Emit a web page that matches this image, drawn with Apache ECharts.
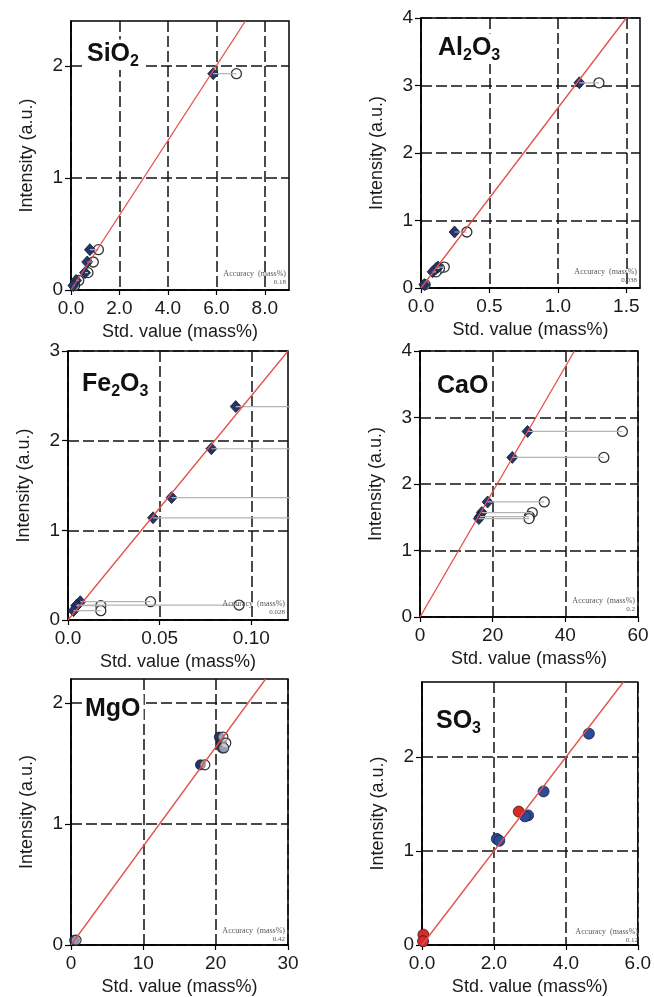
<!DOCTYPE html>
<html><head><meta charset="utf-8">
<script src="https://cdn.jsdelivr.net/npm/echarts@6/dist/echarts.min.js"></script>
<style>html,body{margin:0;padding:0;background:#fff}#c{width:654px;height:997px}</style>
</head><body><div id="c"></div>
<script>
// ---------------- data ----------------
const xAxisName = 'Std. value (mass%)';
const yAxisName = 'Intensity (a.u.)';
const panelTitles = ['{m|SiO}{s|2}', '{m|Al}{s|2}{m|O}{s|3}', '{m|Fe}{s|2}{m|O}{s|3}', '{m|CaO}', '{m|MgO}', '{m|SO}{s|3}'];
const accuracyLabel = 'Accuracy  (mass%)';
const accuracyValues = ['0.18', '0.038', '0.028', '0.2', '0.42', '0.12'];

// SiO2
const sio2Intensity   = [1.93, 0.36, 0.25, 0.155, 0.085, 0.04];
const sio2Corrected   = [5.87, 0.78, 0.67, 0.58, 0.21, 0.10];
const sio2Uncorrected = [6.83, 1.13, 0.92, 0.70, 0.32, 0.15];
const sio2Fit = [[0, 0], [7.2, 2.4]];
const sio2XAxis = [0, 9, 2];   const sio2XTicks = [0, 2, 4, 6, 8]; const sio2XTickLabels = ['0.0', '2.0', '4.0', '6.0', '8.0'];
const sio2YAxis = [0, 2.4, 1]; const sio2YTicks = [0, 1, 2];       const sio2YTickLabels = ['0', '1', '2'];

// Al2O3
const al2o3Intensity   = [3.04, 0.83, 0.31, 0.29, 0.24, 0.05];
const al2o3Corrected   = [1.157, 0.245, 0.125, 0.11, 0.085, 0.025];
const al2o3Uncorrected = [1.30, 0.335, 0.17, 0.135, 0.11, 0.03];
const al2o3Fit = [[0, 0], [1.5, 4]];
const al2o3XAxis = [0, 1.6, 0.5]; const al2o3XTicks = [0, 0.5, 1, 1.5];  const al2o3XTickLabels = ['0.0', '0.5', '1.0', '1.5'];
const al2o3YAxis = [0, 4, 1];     const al2o3YTicks = [0, 1, 2, 3, 4];   const al2o3YTickLabels = ['0', '1', '2', '3', '4'];

// Fe2O3
const fe2o3Intensity   = [2.38, 1.91, 1.365, 1.14, 0.204, 0.167, 0.16, 0.104];
const fe2o3Corrected   = [0.0915, 0.0782, 0.0565, 0.0464, 0.0067, 0.0050, 0.0045, 0.0030];
const fe2o3Uncorrected = [0.175, 0.16, 0.15, 0.15, 0.045, 0.0933, 0.0179, 0.0179];
const fe2o3Fit = [[0, 0], [0.12, 3]];
const fe2o3XAxis = [0, 0.12, 0.05]; const fe2o3XTicks = [0, 0.05, 0.1]; const fe2o3XTickLabels = ['0.0', '0.05', '0.10'];
const fe2o3YAxis = [0, 3, 1];       const fe2o3YTicks = [0, 1, 2, 3];   const fe2o3YTickLabels = ['0', '1', '2', '3'];

// CaO
const caoIntensity   = [2.79, 2.40, 1.73, 1.57, 1.51, 1.48];
const caoCorrected   = [29.6, 25.4, 18.6, 17.0, 16.5, 16.2];
const caoUncorrected = [55.7, 50.6, 34.2, 30.9, 30.1, 30.0];
const caoFit = [[0, 0], [42.5, 4]];
const caoXAxis = [0, 60, 20]; const caoXTicks = [0, 20, 40, 60];   const caoXTickLabels = ['0', '20', '40', '60'];
const caoYAxis = [0, 4, 1];   const caoYTicks = [0, 1, 2, 3, 4];   const caoYTickLabels = ['0', '1', '2', '3', '4'];

// MgO
const mgoIntensity   = [1.72, 1.67, 1.63, 1.49, 0.04];
const mgoCorrected   = [20.5, 20.8, 20.9, 17.9, 0.5];
const mgoUncorrected = [21.0, 21.4, 21.1, 18.5, 0.7];
const mgoFit = [[0, 0], [26.9, 2.2]];
const mgoXAxis = [0, 30, 10]; const mgoXTicks = [0, 10, 20, 30]; const mgoXTickLabels = ['0', '10', '20', '30'];
const mgoYAxis = [0, 2.2, 1]; const mgoYTicks = [0, 1, 2];       const mgoYTickLabels = ['0', '1', '2'];

// SO3
const so3BlueIntensity = [2.25, 1.635, 1.38, 1.37, 1.13, 1.11];
const so3BlueValue     = [4.64, 3.38, 2.95, 2.86, 2.08, 2.15];
const so3RedIntensity  = [1.42, 0.11, 0.04];
const so3RedValue      = [2.69, 0.04, 0.03];
const so3Fit = [[0, 0], [5.6, 2.8]];
const so3XAxis = [0, 6, 2];   const so3XTicks = [0, 2, 4, 6]; const so3XTickLabels = ['0.0', '2.0', '4.0', '6.0'];
const so3YAxis = [0, 2.8, 1]; const so3YTicks = [0, 1, 2];    const so3YTickLabels = ['0', '1', '2'];

// ---------------- layout ----------------
const grids = [
  {left: 71, top: 21, width: 218, height: 269},
  {left: 421, top: 18, width: 219, height: 270},
  {left: 68, top: 351, width: 220, height: 269},
  {left: 420, top: 351, width: 218, height: 266},
  {left: 71, top: 679, width: 217, height: 268},
  {left: 422, top: 682, width: 219, height: 266}
];
const titleOffsets = [[13, 15], [14, 12], [11, 15], [14, 17], [11, 12], [11, 21]];

const panels = [
  {x: sio2XAxis, y: sio2YAxis, xt: sio2XTicks, yt: sio2YTicks, xl: sio2XTickLabels, yl: sio2YTickLabels, fit: sio2Fit, yv: sio2Intensity, c: sio2Corrected, r: sio2Uncorrected, kind: 'diamond'},
  {x: al2o3XAxis, y: al2o3YAxis, xt: al2o3XTicks, yt: al2o3YTicks, xl: al2o3XTickLabels, yl: al2o3YTickLabels, fit: al2o3Fit, yv: al2o3Intensity, c: al2o3Corrected, r: al2o3Uncorrected, kind: 'diamond'},
  {x: fe2o3XAxis, y: fe2o3YAxis, xt: fe2o3XTicks, yt: fe2o3YTicks, xl: fe2o3XTickLabels, yl: fe2o3YTickLabels, fit: fe2o3Fit, yv: fe2o3Intensity, c: fe2o3Corrected, r: fe2o3Uncorrected, kind: 'diamond'},
  {x: caoXAxis, y: caoYAxis, xt: caoXTicks, yt: caoYTicks, xl: caoXTickLabels, yl: caoYTickLabels, fit: caoFit, yv: caoIntensity, c: caoCorrected, r: caoUncorrected, kind: 'diamond'},
  {x: mgoXAxis, y: mgoYAxis, xt: mgoXTicks, yt: mgoYTicks, xl: mgoXTickLabels, yl: mgoYTickLabels, fit: mgoFit, yv: mgoIntensity, c: mgoCorrected, r: mgoUncorrected, kind: 'circle'},
  {x: so3XAxis, y: so3YAxis, xt: so3XTicks, yt: so3YTicks, xl: so3XTickLabels, yl: so3YTickLabels, fit: so3Fit, kind: 'so3'}
];

const FONT = 'Liberation Sans, Arial, sans-serif';
const SERIF = 'Liberation Serif, Times New Roman, serif';
const NAVY = '#24356c';
const NAVY_EDGE = '#121a30';

function labelFn(ticks, labels) {
  return function (v) {
    for (let k = 0; k < ticks.length; k++) {
      if (Math.abs(ticks[k] - v) < 1e-9) return labels[k];
    }
    return '';
  };
}
const gridLine = {show: true, lineStyle: {color: '#111', width: 1.5, type: [11, 4]}};

const option = {
  animation: false,
  backgroundColor: '#fff',
  grid: grids.map(g => Object.assign({show: true, borderColor: '#000', borderWidth: 1.5, backgroundColor: 'transparent', containLabel: false}, g)),
  xAxis: panels.map((p, i) => ({
    gridIndex: i, type: 'value', min: p.x[0], max: p.x[1], interval: p.x[2],
    axisLine: {show: true, onZero: false, lineStyle: {color: '#000', width: 1.5}},
    axisTick: {show: true, length: 5, customValues: p.xt, lineStyle: {color: '#000', width: 1.2}},
    axisLabel: {fontSize: 19, color: '#1a1a1a', margin: 9, fontFamily: FONT, customValues: p.xt, formatter: labelFn(p.xt, p.xl)},
    splitLine: gridLine,
    name: xAxisName, nameLocation: 'middle', nameGap: 33,
    nameTextStyle: {fontSize: 18, color: '#1a1a1a', fontFamily: FONT}
  })),
  yAxis: panels.map((p, i) => ({
    gridIndex: i, type: 'value', min: p.y[0], max: p.y[1], interval: p.y[2],
    axisLine: {show: true, onZero: false, lineStyle: {color: '#000', width: 1.5}},
    axisTick: {show: true, length: 6, customValues: p.yt, lineStyle: {color: '#000', width: 1.2}},
    axisLabel: {fontSize: 19, color: '#1a1a1a', margin: 8, fontFamily: FONT, customValues: p.yt, formatter: labelFn(p.yt, p.yl)},
    splitLine: gridLine,
    name: yAxisName, nameLocation: 'middle', nameGap: 35,
    nameTextStyle: {fontSize: 18, color: '#1a1a1a', fontFamily: FONT}
  })),
  title: grids.map((g, i) => ({
    text: panelTitles[i], left: g.left + titleOffsets[i][0], top: g.top + titleOffsets[i][1],
    backgroundColor: '#fff', padding: [2, 3, 0, 3],
    textStyle: {
      rich: {
        m: {fontSize: 25, fontWeight: 'bold', fontFamily: FONT, color: '#111', lineHeight: 32, verticalAlign: 'middle'},
        s: {fontSize: 16, fontWeight: 'bold', fontFamily: FONT, color: '#111', lineHeight: 32, verticalAlign: 'bottom'}
      }
    }
  })),
  graphic: grids.flatMap((g, i) => [
    {type: 'text', silent: true, z: 10, style: {text: accuracyLabel, x: g.left + g.width - 3, y: g.top + g.height - 20, align: 'right', fontSize: 8, fill: '#555', fontFamily: SERIF}},
    {type: 'text', silent: true, z: 10, style: {text: accuracyValues[i], x: g.left + g.width - 3, y: g.top + g.height - 11, align: 'right', fontSize: 7, fill: '#555', fontFamily: SERIF}}
  ]),
  series: []
};

panels.forEach((p, i) => {
  const ax = {xAxisIndex: i, yAxisIndex: i};
  if (p.kind !== 'so3') {
    p.yv.forEach((y, j) => {
      option.series.push(Object.assign({type: 'line', silent: true, symbol: 'none', clip: true,
        data: [[p.c[j], y], [p.r[j], y]], lineStyle: {color: '#b4b4b4', width: 1.2}}, ax));
    });
  }
  option.series.push(Object.assign({type: 'line', silent: true, symbol: 'none', clip: true,
    data: p.fit, lineStyle: {color: '#e2504a', width: 1.3}}, ax));
  if (p.kind === 'diamond') {
    option.series.push(Object.assign({type: 'scatter', symbol: 'circle', symbolSize: 10,
      data: p.yv.map((y, j) => [p.r[j], y]),
      itemStyle: {color: '#fff', opacity: 1, borderColor: '#333', borderWidth: 1.3}}, ax));
    option.series.push(Object.assign({type: 'scatter', symbol: 'diamond', symbolSize: [11, 12],
      data: p.yv.map((y, j) => [p.c[j], y]),
      itemStyle: {color: NAVY, opacity: 1, borderColor: NAVY_EDGE, borderWidth: 0.8}}, ax));
  } else if (p.kind === 'circle') {
    option.series.push(Object.assign({type: 'scatter', symbol: 'circle', symbolSize: 10,
      data: p.yv.map((y, j) => [p.c[j], y]),
      itemStyle: {color: NAVY, opacity: 1, borderColor: NAVY_EDGE, borderWidth: 0.8}}, ax));
    option.series.push(Object.assign({type: 'scatter', symbol: 'circle', symbolSize: 10,
      data: p.yv.map((y, j) => [p.r[j], y]),
      itemStyle: {color: 'rgba(255,255,255,0.5)', opacity: 1, borderColor: '#333', borderWidth: 1.2}}, ax));
  } else {
    option.series.push(Object.assign({type: 'scatter', symbol: 'circle', symbolSize: 11,
      data: so3BlueValue.map((x, j) => [x, so3BlueIntensity[j]]),
      itemStyle: {color: '#2c4b9b', opacity: 1, borderColor: '#18213d', borderWidth: 0.8}}, ax));
    option.series.push(Object.assign({type: 'scatter', symbol: 'circle', symbolSize: 11,
      data: so3RedValue.map((x, j) => [x, so3RedIntensity[j]]),
      itemStyle: {color: '#d8292b', opacity: 1, borderColor: '#3a1010', borderWidth: 0.8}}, ax));
  }
});

const chart = echarts.init(document.getElementById('c'), null, {renderer: 'canvas'});
chart.setOption(option);
</script>
</body></html>
